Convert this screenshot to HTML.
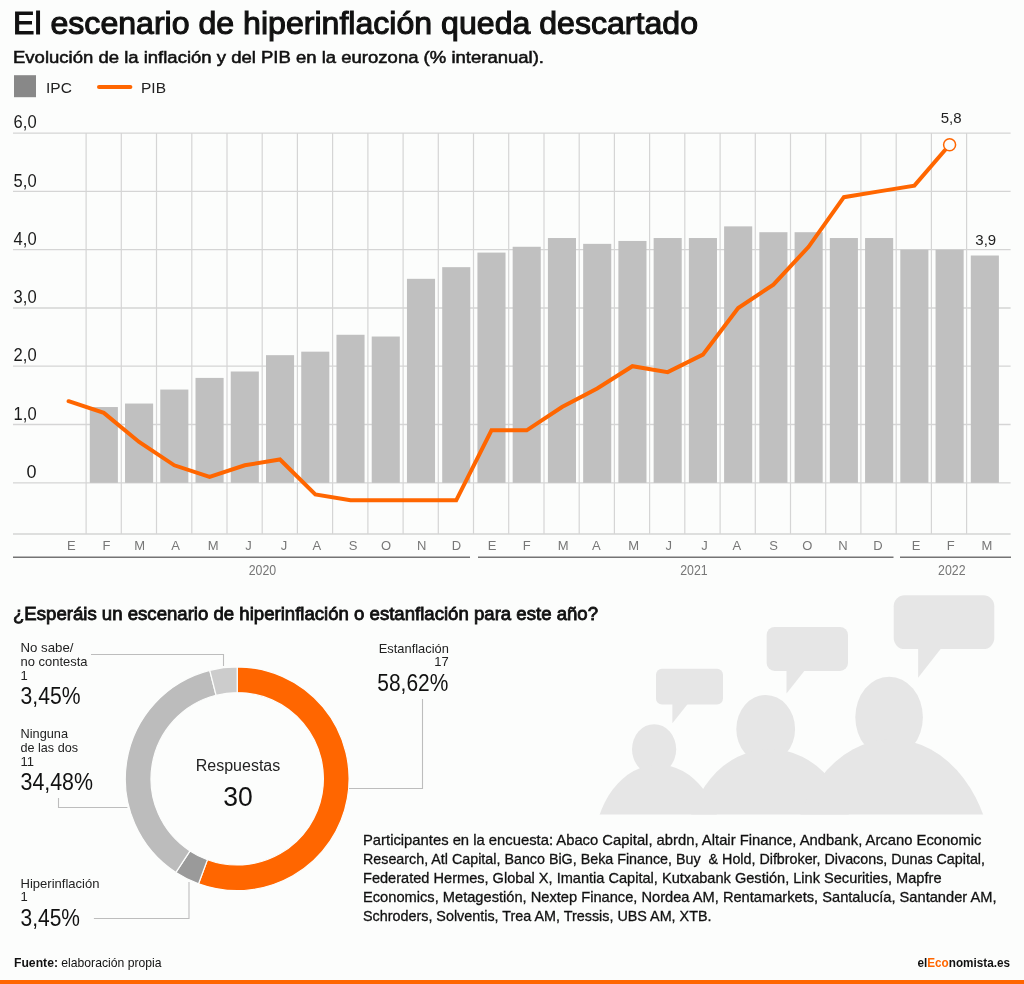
<!DOCTYPE html><html><head><meta charset="utf-8"><style>html,body{margin:0;padding:0;background:#fcfdfc;width:1024px;height:984px;overflow:hidden}svg{display:block;will-change:transform}text{font-family:"Liberation Sans",sans-serif}</style></head><body>
<svg width="1024" height="984" viewBox="0 0 1024 984">
<text x="13" y="33.9" font-size="31.5" font-weight="normal" fill="#111" text-anchor="start" textLength="685" lengthAdjust="spacingAndGlyphs" stroke="#111" stroke-width="1.1">El escenario de hiperinflación queda descartado</text>
<text x="13" y="63.4" font-size="17" font-weight="normal" fill="#111" text-anchor="start" textLength="531" lengthAdjust="spacingAndGlyphs" stroke="#111" stroke-width="0.55">Evolución de la inflación y del PIB en la eurozona (% interanual).</text>
<rect x="14" y="75.2" width="22" height="22" fill="#888"/>
<text x="46" y="92.8" font-size="15.5" font-weight="normal" fill="#222" text-anchor="start" >IPC</text>
<line x1="99" y1="86.9" x2="130.4" y2="86.9" stroke="#ff6600" stroke-width="4" stroke-linecap="round"/>
<text x="141" y="92.8" font-size="15.5" font-weight="normal" fill="#222" text-anchor="start" >PIB</text>
<line x1="13" y1="482.8" x2="1010.6" y2="482.8" stroke="#d5d5d5" stroke-width="1.3"/>
<text x="36.6" y="478.0" font-size="18" font-weight="normal" fill="#1a1a1a" text-anchor="end" >0</text>
<line x1="13" y1="424.5" x2="1010.6" y2="424.5" stroke="#d5d5d5" stroke-width="1.3"/>
<text x="36.6" y="419.7" font-size="18" font-weight="normal" fill="#1a1a1a" text-anchor="end" textLength="23" lengthAdjust="spacingAndGlyphs" >1,0</text>
<line x1="13" y1="366.2" x2="1010.6" y2="366.2" stroke="#d5d5d5" stroke-width="1.3"/>
<text x="36.6" y="361.4" font-size="18" font-weight="normal" fill="#1a1a1a" text-anchor="end" textLength="23" lengthAdjust="spacingAndGlyphs" >2,0</text>
<line x1="13" y1="308.0" x2="1010.6" y2="308.0" stroke="#d5d5d5" stroke-width="1.3"/>
<text x="36.6" y="303.2" font-size="18" font-weight="normal" fill="#1a1a1a" text-anchor="end" textLength="23" lengthAdjust="spacingAndGlyphs" >3,0</text>
<line x1="13" y1="249.7" x2="1010.6" y2="249.7" stroke="#d5d5d5" stroke-width="1.3"/>
<text x="36.6" y="244.9" font-size="18" font-weight="normal" fill="#1a1a1a" text-anchor="end" textLength="23" lengthAdjust="spacingAndGlyphs" >4,0</text>
<line x1="13" y1="191.4" x2="1010.6" y2="191.4" stroke="#d5d5d5" stroke-width="1.3"/>
<text x="36.6" y="186.6" font-size="18" font-weight="normal" fill="#1a1a1a" text-anchor="end" textLength="23" lengthAdjust="spacingAndGlyphs" >5,0</text>
<line x1="13" y1="133.1" x2="1010.6" y2="133.1" stroke="#d5d5d5" stroke-width="1.3"/>
<text x="36.6" y="128.3" font-size="18" font-weight="normal" fill="#1a1a1a" text-anchor="end" textLength="23" lengthAdjust="spacingAndGlyphs" >6,0</text>
<line x1="13" y1="534" x2="1010.6" y2="534" stroke="#d5d5d5" stroke-width="1.3"/>
<line x1="86.1" y1="133" x2="86.1" y2="534" stroke="#d5d5d5" stroke-width="1.2"/>
<line x1="121.3" y1="133" x2="121.3" y2="534" stroke="#d5d5d5" stroke-width="1.2"/>
<line x1="156.5" y1="133" x2="156.5" y2="534" stroke="#d5d5d5" stroke-width="1.2"/>
<line x1="191.8" y1="133" x2="191.8" y2="534" stroke="#d5d5d5" stroke-width="1.2"/>
<line x1="227.0" y1="133" x2="227.0" y2="534" stroke="#d5d5d5" stroke-width="1.2"/>
<line x1="262.2" y1="133" x2="262.2" y2="534" stroke="#d5d5d5" stroke-width="1.2"/>
<line x1="297.4" y1="133" x2="297.4" y2="534" stroke="#d5d5d5" stroke-width="1.2"/>
<line x1="332.6" y1="133" x2="332.6" y2="534" stroke="#d5d5d5" stroke-width="1.2"/>
<line x1="367.9" y1="133" x2="367.9" y2="534" stroke="#d5d5d5" stroke-width="1.2"/>
<line x1="403.1" y1="133" x2="403.1" y2="534" stroke="#d5d5d5" stroke-width="1.2"/>
<line x1="438.3" y1="133" x2="438.3" y2="534" stroke="#d5d5d5" stroke-width="1.2"/>
<line x1="473.5" y1="133" x2="473.5" y2="534" stroke="#d5d5d5" stroke-width="1.2"/>
<line x1="508.7" y1="133" x2="508.7" y2="534" stroke="#d5d5d5" stroke-width="1.2"/>
<line x1="544.0" y1="133" x2="544.0" y2="534" stroke="#d5d5d5" stroke-width="1.2"/>
<line x1="579.2" y1="133" x2="579.2" y2="534" stroke="#d5d5d5" stroke-width="1.2"/>
<line x1="614.4" y1="133" x2="614.4" y2="534" stroke="#d5d5d5" stroke-width="1.2"/>
<line x1="649.6" y1="133" x2="649.6" y2="534" stroke="#d5d5d5" stroke-width="1.2"/>
<line x1="684.8" y1="133" x2="684.8" y2="534" stroke="#d5d5d5" stroke-width="1.2"/>
<line x1="720.1" y1="133" x2="720.1" y2="534" stroke="#d5d5d5" stroke-width="1.2"/>
<line x1="755.3" y1="133" x2="755.3" y2="534" stroke="#d5d5d5" stroke-width="1.2"/>
<line x1="790.5" y1="133" x2="790.5" y2="534" stroke="#d5d5d5" stroke-width="1.2"/>
<line x1="825.7" y1="133" x2="825.7" y2="534" stroke="#d5d5d5" stroke-width="1.2"/>
<line x1="860.9" y1="133" x2="860.9" y2="534" stroke="#d5d5d5" stroke-width="1.2"/>
<line x1="896.2" y1="133" x2="896.2" y2="534" stroke="#d5d5d5" stroke-width="1.2"/>
<line x1="931.4" y1="133" x2="931.4" y2="534" stroke="#d5d5d5" stroke-width="1.2"/>
<line x1="966.6" y1="133" x2="966.6" y2="534" stroke="#d5d5d5" stroke-width="1.2"/>
<rect x="89.79" y="407.04" width="28.1" height="75.76" fill="#c0c0c0"/>
<rect x="125.03" y="403.54" width="28.1" height="79.26" fill="#c0c0c0"/>
<rect x="160.27" y="389.55" width="28.1" height="93.25" fill="#c0c0c0"/>
<rect x="195.51" y="377.90" width="28.1" height="104.90" fill="#c0c0c0"/>
<rect x="230.75" y="371.49" width="28.1" height="111.31" fill="#c0c0c0"/>
<rect x="265.99" y="355.17" width="28.1" height="127.63" fill="#c0c0c0"/>
<rect x="301.23" y="351.67" width="28.1" height="131.13" fill="#c0c0c0"/>
<rect x="336.47" y="334.77" width="28.1" height="148.03" fill="#c0c0c0"/>
<rect x="371.71" y="336.52" width="28.1" height="146.28" fill="#c0c0c0"/>
<rect x="406.95" y="278.82" width="28.1" height="203.98" fill="#c0c0c0"/>
<rect x="442.19" y="267.16" width="28.1" height="215.64" fill="#c0c0c0"/>
<rect x="477.43" y="252.59" width="28.1" height="230.21" fill="#c0c0c0"/>
<rect x="512.67" y="246.77" width="28.1" height="236.03" fill="#c0c0c0"/>
<rect x="547.91" y="238.02" width="28.1" height="244.78" fill="#c0c0c0"/>
<rect x="583.15" y="243.85" width="28.1" height="238.95" fill="#c0c0c0"/>
<rect x="618.39" y="240.94" width="28.1" height="241.86" fill="#c0c0c0"/>
<rect x="653.63" y="238.02" width="28.1" height="244.78" fill="#c0c0c0"/>
<rect x="688.87" y="238.02" width="28.1" height="244.78" fill="#c0c0c0"/>
<rect x="724.11" y="226.37" width="28.1" height="256.43" fill="#c0c0c0"/>
<rect x="759.35" y="232.20" width="28.1" height="250.60" fill="#c0c0c0"/>
<rect x="794.59" y="232.20" width="28.1" height="250.60" fill="#c0c0c0"/>
<rect x="829.83" y="238.02" width="28.1" height="244.78" fill="#c0c0c0"/>
<rect x="865.07" y="238.02" width="28.1" height="244.78" fill="#c0c0c0"/>
<rect x="900.31" y="249.68" width="28.1" height="233.12" fill="#c0c0c0"/>
<rect x="935.55" y="249.68" width="28.1" height="233.12" fill="#c0c0c0"/>
<rect x="970.79" y="255.51" width="28.1" height="227.29" fill="#c0c0c0"/>
<polyline points="68.6,401.2 103.8,412.9 139.1,442.0 174.3,465.3 209.6,477.0 244.8,465.3 280.0,459.5 315.3,494.5 350.5,500.3 385.8,500.3 421.0,500.3 456.2,500.3 491.5,430.3 526.7,430.3 562.0,407.0 597.2,388.4 632.4,366.2 667.7,372.1 702.9,354.6 738.2,308.0 773.4,284.6 808.6,246.8 843.9,197.2 879.1,191.4 914.4,185.6 949.6,144.8" fill="none" stroke="#ff6600" stroke-width="4" stroke-linejoin="miter" stroke-linecap="round"/>
<circle cx="949.6" cy="144.8" r="6" fill="#fcfdfc" stroke="#ff6600" stroke-width="1.5"/>
<text x="951.1" y="123.2" font-size="15" font-weight="normal" fill="#222" text-anchor="middle" >5,8</text>
<text x="985.8" y="245" font-size="15" font-weight="normal" fill="#222" text-anchor="middle" >3,9</text>
<text x="71.40" y="549.8" font-size="13" font-weight="normal" fill="#777" text-anchor="middle" >E</text>
<text x="106.60" y="549.8" font-size="13" font-weight="normal" fill="#777" text-anchor="middle" >F</text>
<text x="139.60" y="549.8" font-size="13" font-weight="normal" fill="#777" text-anchor="middle" >M</text>
<text x="175.70" y="549.8" font-size="13" font-weight="normal" fill="#777" text-anchor="middle" >A</text>
<text x="213.20" y="549.8" font-size="13" font-weight="normal" fill="#777" text-anchor="middle" >M</text>
<text x="248.60" y="549.8" font-size="13" font-weight="normal" fill="#777" text-anchor="middle" >J</text>
<text x="284.00" y="549.8" font-size="13" font-weight="normal" fill="#777" text-anchor="middle" >J</text>
<text x="316.90" y="549.8" font-size="13" font-weight="normal" fill="#777" text-anchor="middle" >A</text>
<text x="353.20" y="549.8" font-size="13" font-weight="normal" fill="#777" text-anchor="middle" >S</text>
<text x="386.00" y="549.8" font-size="13" font-weight="normal" fill="#777" text-anchor="middle" >O</text>
<text x="421.70" y="549.8" font-size="13" font-weight="normal" fill="#777" text-anchor="middle" >N</text>
<text x="456.50" y="549.8" font-size="13" font-weight="normal" fill="#777" text-anchor="middle" >D</text>
<text x="492.00" y="549.8" font-size="13" font-weight="normal" fill="#777" text-anchor="middle" >E</text>
<text x="526.80" y="549.8" font-size="13" font-weight="normal" fill="#777" text-anchor="middle" >F</text>
<text x="563.10" y="549.8" font-size="13" font-weight="normal" fill="#777" text-anchor="middle" >M</text>
<text x="596.30" y="549.8" font-size="13" font-weight="normal" fill="#777" text-anchor="middle" >A</text>
<text x="633.60" y="549.8" font-size="13" font-weight="normal" fill="#777" text-anchor="middle" >M</text>
<text x="668.80" y="549.8" font-size="13" font-weight="normal" fill="#777" text-anchor="middle" >J</text>
<text x="704.40" y="549.8" font-size="13" font-weight="normal" fill="#777" text-anchor="middle" >J</text>
<text x="736.90" y="549.8" font-size="13" font-weight="normal" fill="#777" text-anchor="middle" >A</text>
<text x="773.60" y="549.8" font-size="13" font-weight="normal" fill="#777" text-anchor="middle" >S</text>
<text x="807.20" y="549.8" font-size="13" font-weight="normal" fill="#777" text-anchor="middle" >O</text>
<text x="842.90" y="549.8" font-size="13" font-weight="normal" fill="#777" text-anchor="middle" >N</text>
<text x="877.90" y="549.8" font-size="13" font-weight="normal" fill="#777" text-anchor="middle" >D</text>
<text x="916.10" y="549.8" font-size="13" font-weight="normal" fill="#777" text-anchor="middle" >E</text>
<text x="950.80" y="549.8" font-size="13" font-weight="normal" fill="#777" text-anchor="middle" >F</text>
<text x="986.80" y="549.8" font-size="13" font-weight="normal" fill="#777" text-anchor="middle" >M</text>
<line x1="13" y1="557.2" x2="470" y2="557.2" stroke="#747474" stroke-width="1.5"/>
<line x1="478" y1="557.2" x2="893.5" y2="557.2" stroke="#747474" stroke-width="1.5"/>
<line x1="900" y1="557.2" x2="1011" y2="557.2" stroke="#747474" stroke-width="1.5"/>
<text x="262.5" y="574.5" font-size="14" font-weight="normal" fill="#777" text-anchor="middle" textLength="27.5" lengthAdjust="spacingAndGlyphs" >2020</text>
<text x="694" y="574.5" font-size="14" font-weight="normal" fill="#777" text-anchor="middle" textLength="27.5" lengthAdjust="spacingAndGlyphs" >2021</text>
<text x="951.8" y="574.5" font-size="14" font-weight="normal" fill="#777" text-anchor="middle" textLength="27.5" lengthAdjust="spacingAndGlyphs" >2022</text>
<text x="13" y="620.2" font-size="19" font-weight="normal" fill="#111" text-anchor="start" textLength="585" lengthAdjust="spacingAndGlyphs" stroke="#111" stroke-width="0.85">¿Esperáis un escenario de hiperinflación o estanflación para este año?</text>
<path d="M237.20,666.90 A111.9,111.9 0 1 1 198.56,883.82 L207.44,859.70 A86.2,86.2 0 1 0 237.20,692.60 Z" fill="#ff6600" stroke="#fcfdfc" stroke-width="1.2" stroke-linejoin="miter"/>
<path d="M198.56,883.82 A111.9,111.9 0 0 1 175.93,872.43 L190.00,850.93 A86.2,86.2 0 0 0 207.44,859.70 Z" fill="#9a9a9a" stroke="#fcfdfc" stroke-width="1.2" stroke-linejoin="miter"/>
<path d="M175.93,872.43 A111.9,111.9 0 0 1 209.75,670.32 L216.05,695.23 A86.2,86.2 0 0 0 190.00,850.93 Z" fill="#bcbcbc" stroke="#fcfdfc" stroke-width="1.2" stroke-linejoin="miter"/>
<path d="M209.75,670.32 A111.9,111.9 0 0 1 237.20,666.90 L237.20,692.60 A86.2,86.2 0 0 0 216.05,695.23 Z" fill="#cccccc" stroke="#fcfdfc" stroke-width="1.2" stroke-linejoin="miter"/>
<text x="238" y="771" font-size="16" font-weight="normal" fill="#222" text-anchor="middle" textLength="84.5" lengthAdjust="spacingAndGlyphs" >Respuestas</text>
<text x="238" y="805.9" font-size="27.5" font-weight="normal" fill="#111" text-anchor="middle" textLength="29.5" lengthAdjust="spacingAndGlyphs" >30</text>
<polyline points="91,654.5 223.5,654.5 223.5,666" fill="none" stroke="#bdbdbd" stroke-width="1.1"/>
<polyline points="58.5,798 58.5,807.5 127.4,807.5" fill="none" stroke="#bdbdbd" stroke-width="1.1"/>
<polyline points="93.9,918.5 189,918.5 189,882" fill="none" stroke="#bdbdbd" stroke-width="1.1"/>
<polyline points="349,788.5 422.5,788.5 422.5,699" fill="none" stroke="#bdbdbd" stroke-width="1.1"/>
<text x="20.5" y="652.3" font-size="13" font-weight="normal" fill="#222" text-anchor="start" textLength="53" lengthAdjust="spacingAndGlyphs" >No sabe/</text>
<text x="20.5" y="665.7" font-size="13" font-weight="normal" fill="#222" text-anchor="start" textLength="67" lengthAdjust="spacingAndGlyphs" >no contesta</text>
<text x="20.5" y="679.5" font-size="13" font-weight="normal" fill="#222" text-anchor="start" >1</text>
<text x="20.5" y="703.9" font-size="23" font-weight="normal" fill="#111" text-anchor="start" textLength="60" lengthAdjust="spacingAndGlyphs" >3,45%</text>
<text x="20.5" y="738.1" font-size="13" font-weight="normal" fill="#222" text-anchor="start" textLength="47.5" lengthAdjust="spacingAndGlyphs" >Ninguna</text>
<text x="20.5" y="751.5" font-size="13" font-weight="normal" fill="#222" text-anchor="start" textLength="57.5" lengthAdjust="spacingAndGlyphs" >de las dos</text>
<text x="20.5" y="765.75" font-size="13" font-weight="normal" fill="#222" text-anchor="start" >11</text>
<text x="20.5" y="790.2" font-size="23" font-weight="normal" fill="#111" text-anchor="start" textLength="72.5" lengthAdjust="spacingAndGlyphs" >34,48%</text>
<text x="20.5" y="887.5" font-size="13" font-weight="normal" fill="#222" text-anchor="start" textLength="79" lengthAdjust="spacingAndGlyphs" >Hiperinflación</text>
<text x="20.5" y="901.2" font-size="13" font-weight="normal" fill="#222" text-anchor="start" >1</text>
<text x="20.5" y="925.6" font-size="23" font-weight="normal" fill="#111" text-anchor="start" textLength="59.5" lengthAdjust="spacingAndGlyphs" >3,45%</text>
<text x="448.8" y="652.6" font-size="13" font-weight="normal" fill="#222" text-anchor="end" textLength="70" lengthAdjust="spacingAndGlyphs" >Estanflación</text>
<text x="448.8" y="666" font-size="13" font-weight="normal" fill="#222" text-anchor="end" >17</text>
<text x="448.3" y="690.7" font-size="23" font-weight="normal" fill="#111" text-anchor="end" textLength="71" lengthAdjust="spacingAndGlyphs" >58,62%</text>
<defs><clipPath id="bclip"><rect x="0" y="0" width="1024" height="814.5"/></clipPath></defs>
<g fill="#e6e6e6">
<rect x="656" y="668.8" width="67" height="35.8" rx="6"/>
<path d="M672.4,703 L672.4,723.3 L688.5,703 Z"/>
<rect x="766.65" y="627" width="81.35" height="43.9" rx="8"/>
<path d="M786.5,669 L786.5,693.4 L805.9,669 Z"/>
<rect x="893.7" y="595.2" width="100.6" height="53.9" rx="11"/>
<path d="M918.1,647 L918.1,677.7 L942.2,647 Z"/>
<ellipse cx="654.1" cy="749.2" rx="22.1" ry="25"/>
<ellipse cx="765.7" cy="729" rx="29.4" ry="34.1"/>
<ellipse cx="889.1" cy="717.2" rx="33.8" ry="40.5"/>
<g clip-path="url(#bclip)">
<ellipse cx="658.2" cy="850" rx="64.3" ry="85.5"/>
<ellipse cx="770" cy="850" rx="84.2" ry="100.9"/>
<ellipse cx="891.85" cy="871.12" rx="101.11" ry="131.8"/>
</g>
</g>
<text x="363" y="844.5" font-size="15" font-weight="normal" fill="#111" text-anchor="start" textLength="618.5" lengthAdjust="spacingAndGlyphs" stroke="#111" stroke-width="0.3">Participantes en la encuesta: Abaco Capital, abrdn, Altair Finance, Andbank, Arcano Economic</text>
<text x="363" y="863.7" font-size="15" font-weight="normal" fill="#111" text-anchor="start" textLength="622" lengthAdjust="spacingAndGlyphs" stroke="#111" stroke-width="0.3">Research, Atl Capital, Banco BiG, Beka Finance, Buy&#160; &amp; Hold, Difbroker, Divacons, Dunas Capital,</text>
<text x="363" y="882.9" font-size="15" font-weight="normal" fill="#111" text-anchor="start" textLength="578.5" lengthAdjust="spacingAndGlyphs" stroke="#111" stroke-width="0.3">Federated Hermes, Global X, Imantia Capital, Kutxabank Gestión, Link Securities, Mapfre</text>
<text x="363" y="902.1" font-size="15" font-weight="normal" fill="#111" text-anchor="start" textLength="633.5" lengthAdjust="spacingAndGlyphs" stroke="#111" stroke-width="0.3">Economics, Metagestión, Nextep Finance, Nordea AM, Rentamarkets, Santalucía, Santander AM,</text>
<text x="363" y="921.3" font-size="15" font-weight="normal" fill="#111" text-anchor="start" textLength="348.5" lengthAdjust="spacingAndGlyphs" stroke="#111" stroke-width="0.3">Schroders, Solventis, Trea AM, Tressis, UBS AM, XTB.</text>
<text x="14" y="966.6" font-size="13" fill="#111" textLength="147.5" lengthAdjust="spacingAndGlyphs"><tspan font-weight="bold">Fuente:</tspan> elaboración propia</text>
<text x="917.5" y="966.7" font-size="13" font-weight="bold" fill="#111" textLength="92.5" lengthAdjust="spacingAndGlyphs">el<tspan fill="#ff6600">Eco</tspan>nomista.es</text>
<rect x="0" y="980" width="1024" height="4" fill="#ff6600"/>
</svg></body></html>
